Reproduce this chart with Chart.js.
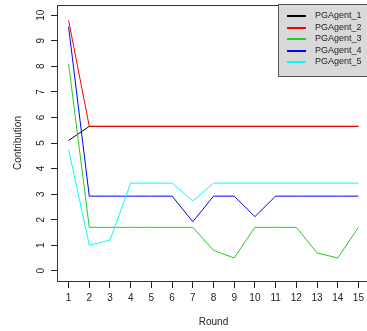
<!DOCTYPE html>
<html>
<head>
<meta charset="utf-8">
<title>Contribution per Round</title>
<script src="https://cdn.jsdelivr.net/npm/chart.js@4"></script>
<style>
    html, body { margin: 0; padding: 0; background: #fff; overflow: hidden; }
    #wrap { width: 367px; height: 331px; overflow: hidden; }
</style>
</head>
<body>
<div id="wrap"><canvas id="chartLine" width="380" height="331"></canvas></div>
<script>
// Datos
const rounds = [1, 2, 3, 4, 5, 6, 7, 8, 9, 10, 11, 12, 13, 14, 15];
const yTicks = [0, 1, 2, 3, 4, 5, 6, 7, 8, 9, 10];
const agentNames = ['PGAgent_1', 'PGAgent_2', 'PGAgent_3', 'PGAgent_4', 'PGAgent_5'];
const agent1 = [5.1, 5.65, 5.65, 5.65, 5.65, 5.65, 5.65, 5.65, 5.65, 5.65, 5.65, 5.65, 5.65, 5.65, 5.65];
const agent2 = [9.8, 5.65, 5.65, 5.65, 5.65, 5.65, 5.65, 5.65, 5.65, 5.65, 5.65, 5.65, 5.65, 5.65, 5.65];
const agent3 = [8.1, 1.7, 1.7, 1.7, 1.7, 1.7, 1.7, 0.8, 0.5, 1.7, 1.7, 1.7, 0.7, 0.5, 1.7];
const agent4 = [9.55, 2.92, 2.92, 2.92, 2.92, 2.92, 1.92, 2.92, 2.92, 2.12, 2.92, 2.92, 2.92, 2.92, 2.92];
const agent5 = [4.75, 1.0, 1.2, 3.43, 3.43, 3.43, 2.73, 3.43, 3.43, 3.43, 3.43, 3.43, 3.43, 3.43, 3.43];
const agentColors = ['#000000', '#ff0000', '#22cc22', '#0000ff', '#00ffff'];

const FONT = 'Liberation Sans, Arial, sans-serif';
const TEXT = '#222';

// Caja alrededor del área de dibujo (estilo R)
const boxPlugin = {
    id: 'box',
    afterDraw(chart) {
        const { ctx, chartArea: a } = chart;
        ctx.save();
        ctx.strokeStyle = '#333';
        ctx.lineWidth = 1;
        ctx.strokeRect(Math.round(a.left) + 0.5, Math.round(a.top) + 0.5,
            Math.round(a.right - a.left), Math.round(a.bottom - a.top));
        ctx.restore();
    }
};

// Etiquetas del eje Y giradas 90°
const yLabelPlugin = {
    id: 'yLabels',
    afterDraw(chart) {
        const { ctx } = chart;
        const y = chart.scales.y;
        ctx.save();
        ctx.fillStyle = TEXT;
        ctx.font = '10px ' + FONT;
        ctx.textAlign = 'center';
        ctx.textBaseline = 'middle';
        yTicks.forEach(v => {
            ctx.save();
            ctx.translate(41, y.getPixelForValue(v));
            ctx.rotate(-Math.PI / 2);
            ctx.fillText(String(v), 0, 0);
            ctx.restore();
        });
        ctx.restore();
    }
};

// Leyenda en la esquina superior derecha
const legendPlugin = {
    id: 'rLegend',
    afterDraw(chart) {
        const { ctx } = chart;
        const x0 = 278.5, y0 = 4.5, w = 100, h = 72;
        ctx.save();
        ctx.fillStyle = '#d9d9d9';
        ctx.fillRect(x0, y0, w, h);
        ctx.strokeStyle = '#555';
        ctx.lineWidth = 1;
        ctx.strokeRect(x0, y0, w, h);
        ctx.font = '9px ' + FONT;
        ctx.textAlign = 'left';
        ctx.textBaseline = 'middle';
        agentNames.forEach((name, i) => {
            const ly = Math.round(15 + i * 11.5);
            ctx.fillStyle = agentColors[i];
            ctx.fillRect(287, ly, 19, 2);
            ctx.fillStyle = TEXT;
            ctx.fillText(name, 315, ly + 1);
        });
        ctx.restore();
    }
};

function renderChart() {
    const ctx = document.getElementById('chartLine').getContext('2d');
    const series = [agent1, agent2, agent3, agent4, agent5];
    const datasets = series.map((vals, i) => ({
        label: agentNames[i],
        data: vals.map((v, k) => ({ x: rounds[k], y: v })),
        borderColor: agentColors[i],
        borderWidth: 1,
        pointRadius: 0,
        tension: 0,
        fill: false,
        order: 5 - i
    }));

    new Chart(ctx, {
        type: 'line',
        data: { datasets: datasets },
        options: {
            responsive: false,
            animation: false,
            devicePixelRatio: 1,
            layout: { padding: { top: 5, left: 0, right: 10, bottom: 0 } },
            plugins: { legend: { display: false }, tooltip: { enabled: false } },
            scales: {
                x: {
                    type: 'linear',
                    min: 0.44,
                    max: 15.56,
                    afterBuildTicks: s => { s.ticks = rounds.map(v => ({ value: v })); },
                    afterFit: s => { s.height = 50; },
                    grid: { drawOnChartArea: false, drawTicks: true, tickLength: 7, color: '#222' },
                    border: { display: true, color: '#222' },
                    ticks: { color: TEXT, font: { family: FONT, size: 10 }, padding: 4, maxRotation: 0, autoSkip: false },
                    title: { display: true, text: 'Round', color: TEXT, font: { family: FONT, size: 10 }, padding: { top: 0, bottom: 3 } }
                },
                y: {
                    type: 'linear',
                    min: -0.4,
                    max: 10.4,
                    afterBuildTicks: s => { s.ticks = yTicks.map(v => ({ value: v })); },
                    afterFit: s => { s.width = 57; },
                    grid: { drawOnChartArea: false, drawTicks: true, tickLength: 6, color: '#222' },
                    border: { display: true, color: '#222' },
                    ticks: { display: false },
                    title: { display: true, text: 'Contribution', color: TEXT, font: { family: FONT, size: 10 }, padding: { top: 12, bottom: 0 } }
                }
            }
        },
        plugins: [boxPlugin, yLabelPlugin, legendPlugin]
    });
}

document.addEventListener('DOMContentLoaded', renderChart);
</script>
</body>
</html>
